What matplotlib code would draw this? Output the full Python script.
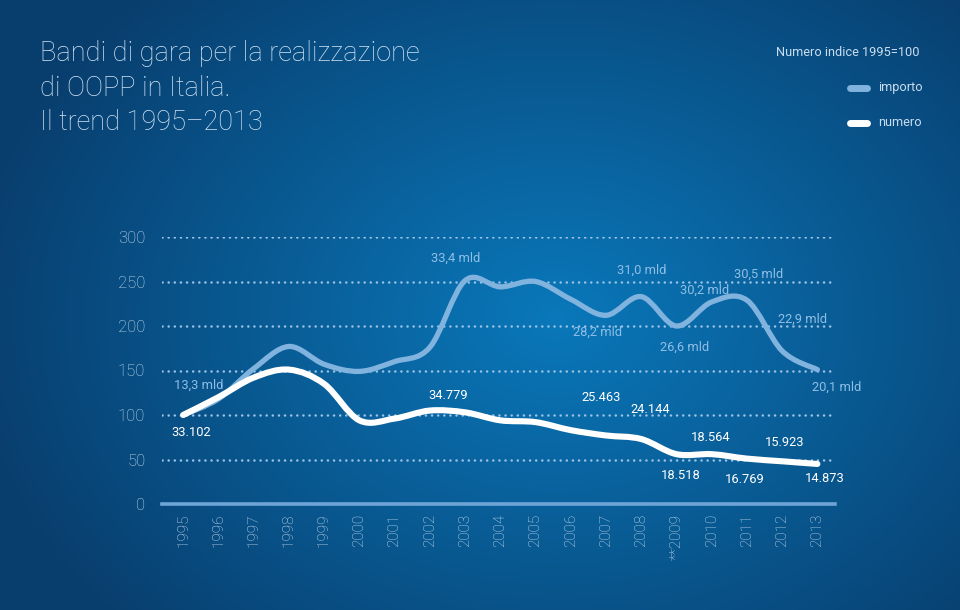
import numpy as np
import matplotlib
matplotlib.use("Agg")
import matplotlib.pyplot as plt
from matplotlib.path import Path
from matplotlib.patches import PathPatch
from matplotlib.lines import Line2D

plt.rcParams['font.family'] = ['Roboto', 'DejaVu Sans']

# data (indice 1995 = 100)
years = list(range(1995, 2014))
year_labels = [str(y) for y in years]
year_labels[years.index(2009)] = '**2009'
importo = [100, 118, 152, 177, 157, 149, 160, 176, 251, 244, 250, 230, 212, 233, 200, 227, 229, 172, 151]
numero = [100, 120, 142, 151, 135, 94, 96, 105, 103, 94, 92, 83, 77, 73, 56, 56, 51, 48, 45]

# labels: (year, text, dx px, dy px)
importo_notes = [(1995, '13,3 mld', 16, 30), (2003, '33,4 mld', -9, 22), (2007, '28,2 mld', -8, -17),
                 (2008, '31,0 mld', 0, 26), (2009, '26,6 mld', 8, -21), (2010, '30,2 mld', -7, 12),
                 (2011, '30,5 mld', 12, 26), (2012, '22,9 mld', 20, 32), (2013, '20,1 mld', 19, -18)]
numero_notes = [(1995, '33.102', 8, -18), (2002, '34.779', 18, 15), (2007, '25.463', -5, 38),
                (2008, '24.144', 9, 30), (2009, '18.518', 4, -21), (2010, '18.564', -1, 17),
                (2011, '16.769', -2, -21), (2012, '15.923', 2, 19), (2013, '14.873', 7, -15)]

C_IMP = '#80b3de'
C_NUM = '#ffffff'
C_TXT = '#c8dcef'


def smooth_path(xs, ys):
    # Catmull-Rom -> cubic Bezier through the data points
    p = np.column_stack([xs, ys]).astype(float)
    p_ext = np.vstack([p[0], p, p[-1]])
    verts = [p[0]]
    codes = [Path.MOVETO]
    for i in range(len(p) - 1):
        p0, p1, p2, p3 = p_ext[i], p_ext[i + 1], p_ext[i + 2], p_ext[i + 3]
        verts += [p1 + (p2 - p0) / 6, p2 - (p3 - p1) / 6, p2]
        codes += [Path.CURVE4] * 3
    return Path(verts, codes)


fig = plt.figure(figsize=(9.6, 6.1), dpi=100)

# background gradient
bg = fig.add_axes([0, 0, 1, 1], zorder=-10)
gx, gy = np.meshgrid(np.linspace(0, 1, 480), np.linspace(0, 1, 305))
r = np.sqrt(((gx - 0.58) / 0.62) ** 2 + ((gy - 0.52) / 0.75) ** 2)
r = np.clip(r, 0, 1)
c_in = np.array([10, 120, 186]) / 255
c_out = np.array([8, 62, 110]) / 255
img = c_in[None, None, :] * (1 - r[..., None]) + c_out[None, None, :] * r[..., None]
bg.imshow(img, aspect='auto', extent=[0, 1, 0, 1], origin='upper')
bg.set_axis_off()

ax = fig.add_axes([162 / 960, 1 - 504 / 610, (835 - 162) / 960, (504 - 237) / 610])
ax.set_facecolor('none')
ax.set_xlim(1994.4, 2013.5)
ax.set_ylim(0, 300)
for s in ax.spines.values():
    s.set_visible(False)

for yv in [50, 100, 150, 200, 250, 300]:
    ax.axhline(yv, color='#9cc3e6', lw=1.8, ls=(0, (0.05, 2.4)), dash_capstyle='round', zorder=1)
ax.axhline(0, color='#6ea5d6', lw=2.6, zorder=1, clip_on=False)

ax.add_patch(PathPatch(smooth_path(years, importo), facecolor='none', edgecolor=C_IMP,
                       lw=3.8, capstyle='round', joinstyle='round', zorder=3, clip_on=False))
ax.add_patch(PathPatch(smooth_path(years, numero), facecolor='none', edgecolor=C_NUM,
                       lw=4.4, capstyle='round', joinstyle='round', zorder=4, clip_on=False))

for yr, txt, dx, dy in importo_notes:
    ax.annotate(txt, (yr, importo[years.index(yr)]), xytext=(dx, dy), textcoords='offset pixels',
                ha='center', va='center', color='#8fbfe6', fontsize=9.3)
for yr, txt, dx, dy in numero_notes:
    ax.annotate(txt, (yr, numero[years.index(yr)]), xytext=(dx, dy), textcoords='offset pixels',
                ha='center', va='center', color=C_NUM, fontsize=9.3)

ax.set_yticks([0, 50, 100, 150, 200, 250, 300])
ax.set_yticklabels(['0', '50', '100', '150', '200', '250', '300'], color=C_TXT, fontsize=12,
                   fontweight='light')
ax.set_xticks(years)
ax.set_xticklabels(year_labels, rotation=90, color=C_TXT, fontsize=11, fontweight='light')
ax.tick_params(length=0)
ax.tick_params(axis='y', pad=12)
ax.tick_params(axis='x', pad=7)

fig.text(40 / 960, 1 - 88 / 610, 'Bandi di gara per la realizzazione\ndi OOPP in Italia.\nIl trend 1995\u20132013',
         color='#d3e5f5', fontsize=19.5, fontweight='light', va='center', ha='left', linespacing=1.38)
fig.text(920 / 960, 1 - 52 / 610, 'Numero indice 1995=100', color=C_TXT, fontsize=9.2,
         ha='right', va='center')

for yy, col, lab in [(88, C_IMP, 'importo'), (123, C_NUM, 'numero')]:
    fig.add_artist(Line2D([850 / 960, 867 / 960], [1 - yy / 610] * 2, color=col, lw=5,
                          solid_capstyle='round'))
    fig.text(878 / 960, 1 - yy / 610, lab, color=C_TXT, fontsize=9.2,
             ha='left', va='center')

fig.savefig('out.png', dpi=100)
